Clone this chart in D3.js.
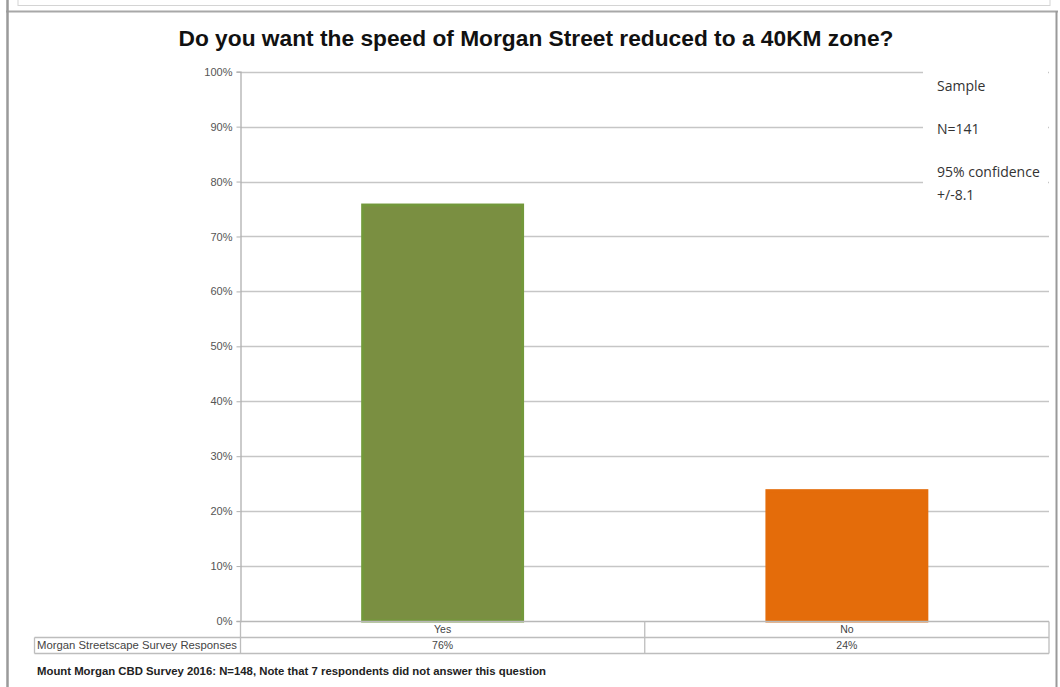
<!DOCTYPE html>
<html>
<head>
<meta charset="utf-8">
<script src="https://cdn.jsdelivr.net/npm/d3@7"></script>
<style>
  html, body { margin: 0; padding: 0; background: #fff; }
  svg { display: block; }
</style>
</head>
<body>
<svg id="chart" width="1060" height="687"></svg>
<script>
// ---- data ----
const categories = ["Yes", "No"];
const values = [0.76, 0.24];
const valueLabels = ["76%", "24%"];
const yTicks = [0, 0.1, 0.2, 0.3, 0.4, 0.5, 0.6, 0.7, 0.8, 0.9, 1.0];
const seriesName = "Morgan Streetscape Survey Responses";
const title = "Do you want the speed of Morgan Street reduced to a 40KM zone?";
const legendLines = ["Sample", "N=141", "95% confidence", "+/-8.1"];
const footnote = "Mount Morgan CBD Survey 2016: N=148, Note that 7 respondents  did not answer this question";

const barFill = ["#7a8f41", "#e46c0a"];
const barStroke = ["#73983b", "#e46c0a"];

const svg = d3.select("#chart");

// ---- frame ----
svg.append("rect").attr("x", 18).attr("y", -2).attr("width", 1032).attr("height", 7.5)
  .attr("fill", "none").attr("stroke", "#d4d4d4").attr("stroke-width", 1);
svg.append("line").attr("x1", 6).attr("x2", 1058).attr("y1", 11.5).attr("y2", 11.5)
  .attr("stroke", "#a8a8a8").attr("stroke-width", 2);
svg.append("line").attr("x1", 7.5).attr("x2", 7.5).attr("y1", 0).attr("y2", 687)
  .attr("stroke", "#9a9a9a").attr("stroke-width", 2.5);
svg.append("line").attr("x1", 1056.5).attr("x2", 1056.5).attr("y1", 11).attr("y2", 687)
  .attr("stroke", "#9a9a9a").attr("stroke-width", 2);

// ---- scales ----
const plotLeft = 240.5, plotRight = 1049, plotTop = 71.7, plotBottom = 621;
const y = d3.scaleLinear().domain([0, 1]).range([plotBottom, plotTop]);
const x = d3.scaleBand().domain(categories).range([plotLeft, plotRight])
  .paddingInner(0.597).paddingOuter(0.2985);
const colX = d3.scaleBand().domain(categories).range([plotLeft, plotRight]);

// ---- title ----
svg.append("text").attr("x", 536).attr("y", 46)
  .attr("text-anchor", "middle")
  .attr("font-family", "Liberation Sans, Arial, sans-serif")
  .attr("font-weight", "bold").attr("font-size", 22.5)
  .attr("textLength", 715).attr("lengthAdjust", "spacingAndGlyphs")
  .attr("fill", "#111").text(title);

// ---- gridlines ----
svg.append("g").selectAll("line").data(yTicks.filter(d => d > 0)).join("line")
  .attr("x1", plotLeft).attr("x2", plotRight)
  .attr("y1", d => Math.round(y(d)) + 0.5).attr("y2", d => Math.round(y(d)) + 0.5)
  .attr("stroke", "#c6c6c6").attr("stroke-width", 1.3);

// ---- y axis ----
const yAxis = d3.axisLeft(y).tickValues(yTicks).tickFormat(d3.format(".0%"))
  .tickSize(4).tickPadding(4);
const gy = svg.append("g").attr("transform", `translate(${plotLeft},0)`).call(yAxis);
gy.select(".domain").attr("stroke", "#b0b0b0").attr("stroke-width", 1.3);
gy.selectAll(".tick line").attr("stroke", "#b0b0b0");
gy.selectAll(".tick text").attr("font-family", "Liberation Sans, Arial, sans-serif")
  .attr("font-size", 11).attr("fill", "#555");

// ---- legend box (sample info) ----
svg.append("rect").attr("x", 923).attr("y", 62).attr("width", 125).attr("height", 160)
  .attr("fill", "#fff");
const legendY = [91, 134, 177, 200];
svg.append("g").selectAll("text").data(legendLines).join("text")
  .attr("x", 937).attr("y", (d, i) => legendY[i])
  .attr("font-family", "Open Sans, Noto Sans, sans-serif")
  .attr("font-size", 14).attr("fill", "#333").text(d => d);

// ---- bars ----
svg.append("g").selectAll("rect").data(values).join("rect")
  .attr("x", (d, i) => x(categories[i]) + 1.5)
  .attr("width", x.bandwidth() - 3)
  .attr("y", d => y(d) + 1.5)
  .attr("height", d => plotBottom - y(d) - 1.5)
  .attr("fill", (d, i) => barFill[i])
  .attr("stroke", (d, i) => barStroke[i])
  .attr("stroke-width", 3);

// 0% baseline
svg.append("line").attr("x1", plotLeft).attr("x2", plotRight)
  .attr("y1", plotBottom + 0.5).attr("y2", plotBottom + 0.5)
  .attr("stroke", "#b8b8b8").attr("stroke-width", 1.3);

// ---- data table ----
const tableLeft = 34.5, row1 = plotBottom + 0.5, row2 = 637.5, row3 = 653.5;
const tg = svg.append("g").attr("stroke", "#bdbdbd").attr("stroke-width", 1.3).attr("fill", "none");
tg.append("line").attr("x1", plotRight).attr("x2", plotRight).attr("y1", row1).attr("y2", row3);
tg.append("line").attr("x1", tableLeft).attr("x2", plotRight).attr("y1", row2).attr("y2", row2);
tg.append("line").attr("x1", tableLeft).attr("x2", plotRight).attr("y1", row3).attr("y2", row3);
tg.append("line").attr("x1", tableLeft).attr("x2", tableLeft).attr("y1", row2).attr("y2", row3);
tg.append("line").attr("x1", plotLeft).attr("x2", plotLeft).attr("y1", row1).attr("y2", row3);
tg.selectAll("line.div").data(categories.slice(1)).join("line").attr("class", "div")
  .attr("x1", d => colX(d)).attr("x2", d => colX(d)).attr("y1", row1).attr("y2", row3);

const tableFont = "Liberation Sans, Arial, sans-serif";
svg.append("g").selectAll("text").data(categories).join("text")
  .attr("x", d => colX(d) + colX.bandwidth() / 2).attr("y", 633)
  .attr("text-anchor", "middle").attr("font-family", tableFont)
  .attr("font-size", 10.5).attr("fill", "#444").text(d => d);
svg.append("g").selectAll("text").data(valueLabels).join("text")
  .attr("x", (d, i) => colX(categories[i]) + colX.bandwidth() / 2).attr("y", 649)
  .attr("text-anchor", "middle").attr("font-family", tableFont)
  .attr("font-size", 10.5).attr("fill", "#444").text(d => d);
svg.append("text").attr("x", 37).attr("y", 649)
  .attr("font-family", tableFont).attr("font-size", 10.5).attr("fill", "#444")
  .attr("textLength", 200).attr("lengthAdjust", "spacingAndGlyphs")
  .text(seriesName);

// ---- footnote ----
svg.append("text").attr("x", 37).attr("y", 675)
  .attr("font-family", tableFont).attr("font-weight", "bold")
  .attr("font-size", 10.5).attr("fill", "#222")
  .attr("textLength", 509).attr("lengthAdjust", "spacingAndGlyphs")
  .text(footnote);
</script>
</body>
</html>
